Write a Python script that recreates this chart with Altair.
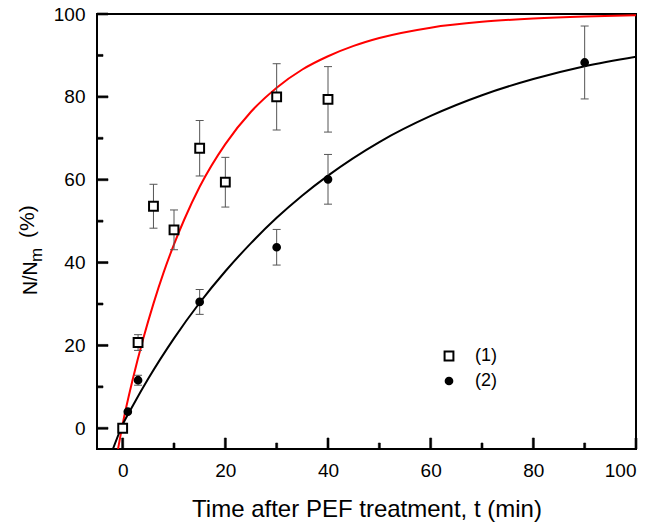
import altair as alt
import pandas as pd

# ---- data ----
t1 = [0, 3, 6, 10, 15, 20, 30, 40]
v1 = [0, 20.7, 53.6, 47.9, 67.6, 59.4, 80.0, 79.4]
e1 = [0, 1.9, 5.3, 4.8, 6.7, 6.0, 8.0, 7.9]

t2 = [1, 3, 15, 30, 40, 90]
v2 = [4.0, 11.6, 30.5, 43.7, 60.1, 88.3]
e2 = [0, 1.2, 3.0, 4.3, 6.0, 8.8]

# fitted curves
fit1_t = [-0.9, 0, 2, 4, 6, 8, 10, 12, 15, 20, 25, 30, 35, 40, 45, 50, 60, 70, 80, 90, 100]
fit1_v = [-5, 1.0, 12.0, 21.6, 30.1, 37.7, 44.4, 50.4, 58.3, 68.6, 76.4, 82.2, 86.6, 89.8, 92.3, 94.2, 96.7, 98.1, 98.9, 99.4, 99.7]
fit2_t = [-1.9, 0, 2, 5, 10, 15, 20, 25, 30, 35, 40, 50, 60, 70, 80, 90, 100]
fit2_v = [-5, 0.9, 5.5, 12.0, 21.7, 30.3, 37.9, 44.7, 50.8, 56.2, 61.0, 69.1, 75.4, 80.4, 84.3, 87.4, 89.7]

x_major = [0, 20, 40, 60, 80, 100]
x_minor = [10, 30, 50, 70, 90]
y_major = [0, 20, 40, 60, 80, 100]
y_minor = [10, 30, 50, 70, 90]

labels = ["(1)", "(2)"]

FONT = "Liberation Sans"
W, H = 539, 435

pts = pd.DataFrame({
    "t": t1 + t2,
    "v": v1 + v2,
    "e": e1 + e2,
    "series": [labels[0]] * len(t1) + [labels[1]] * len(t2),
})
pts["lo"] = pts["v"] - pts["e"]
pts["hi"] = pts["v"] + pts["e"]
bars = pts[pts["e"] > 0]

curves = pd.DataFrame({
    "t": fit1_t + fit2_t,
    "v": fit1_v + fit2_v,
    "curve": ["c1"] * len(fit1_t) + ["c2"] * len(fit2_t),
})

xs = alt.Scale(domain=[-5, 100], nice=False, zero=False)
ys = alt.Scale(domain=[-5, 100], nice=False, zero=False)

xaxis = alt.Axis(values=x_major, ticks=False, domain=False, grid=False,
                 labelFontSize=19, labelFont=FONT, labelColor="black", labelPadding=12,
                 title="Time after PEF treatment, t (min)", titleFontSize=24,
                 titleFont=FONT, titleFontWeight="normal", titleColor="black",
                 titlePadding=17)
yaxis = alt.Axis(values=y_major, ticks=False, domain=False, grid=False,
                 labelFontSize=19, labelFont=FONT, labelColor="black", labelPadding=12,
                 title=None)

lines = alt.Chart(curves).mark_line(strokeWidth=2, clip=True, interpolate="monotone").encode(
    x=alt.X("t:Q", scale=xs, axis=xaxis),
    y=alt.Y("v:Q", scale=ys, axis=yaxis),
    color=alt.Color("curve:N", scale=alt.Scale(domain=["c1", "c2"], range=["#ff0000", "#000000"]), legend=None),
    detail="curve:N",
)

GREY = "#555555"
ebar = alt.Chart(bars).mark_rule(color=GREY, strokeWidth=1, opacity=1).encode(
    x=alt.X("t:Q", scale=xs), y=alt.Y("lo:Q", scale=ys), y2="hi:Q")
cap_lo = alt.Chart(bars).mark_tick(color=GREY, thickness=1, size=8, orient="horizontal", opacity=1).encode(
    x=alt.X("t:Q", scale=xs), y=alt.Y("lo:Q", scale=ys))
cap_hi = alt.Chart(bars).mark_tick(color=GREY, thickness=1, size=8, orient="horizontal", opacity=1).encode(
    x=alt.X("t:Q", scale=xs), y=alt.Y("hi:Q", scale=ys))

leg = alt.Legend(title=None, orient="none", legendX=343, legendY=333, padding=0,
                 labelFontSize=18, labelFont=FONT, labelColor="black", labelOffset=17,
                 symbolStrokeWidth=2, rowPadding=7)

points = alt.Chart(pts).mark_point(strokeWidth=2, opacity=1).encode(
    x=alt.X("t:Q", scale=xs),
    y=alt.Y("v:Q", scale=ys),
    shape=alt.Shape("series:N", scale=alt.Scale(domain=labels, range=["square", "circle"]), legend=leg),
    fill=alt.Fill("series:N", scale=alt.Scale(domain=labels, range=["white", "black"]), legend=leg),
    stroke=alt.Stroke("series:N", scale=alt.Scale(domain=labels, range=["black", "black"]), legend=leg),
    size=alt.Size("series:N", scale=alt.Scale(domain=labels, range=[78, 45]), legend=leg),
)

TK = dict(color="black", stroke="black", strokeWidth=0.6, opacity=1, thickness=2)
xmaj = alt.Chart(pd.DataFrame({"t": x_major})).mark_tick(size=11, orient="vertical", **TK).encode(
    x=alt.X("t:Q", scale=xs), y=alt.value(H - 5.5))
xmin = alt.Chart(pd.DataFrame({"t": x_minor})).mark_tick(size=6, orient="vertical", **TK).encode(
    x=alt.X("t:Q", scale=xs), y=alt.value(H - 3))
ymaj = alt.Chart(pd.DataFrame({"v": y_major})).mark_tick(size=11, orient="horizontal", **TK).encode(
    y=alt.Y("v:Q", scale=ys), x=alt.value(5.5))
ymin = alt.Chart(pd.DataFrame({"v": y_minor})).mark_tick(size=6, orient="horizontal", **TK).encode(
    y=alt.Y("v:Q", scale=ys), x=alt.value(3))

one = pd.DataFrame({"a": [0]})
yt1 = alt.Chart(one).mark_text(text="N/N", angle=270, align="left", baseline="alphabetic",
                               fontSize=19.5, font=FONT, color="black").encode(
    x=alt.value(-60.5), y=alt.value(281))
yt2 = alt.Chart(one).mark_text(text="m", angle=270, align="left", baseline="alphabetic",
                               fontSize=17, font=FONT, color="black").encode(
    x=alt.value(-55.5), y=alt.value(248))
yt3 = alt.Chart(one).mark_text(text="(%)", angle=270, align="left", baseline="alphabetic",
                               fontSize=21, font=FONT, color="black").encode(
    x=alt.value(-63), y=alt.value(224))

chart = alt.layer(lines, ebar, cap_lo, cap_hi, points, xmaj, xmin, ymaj, ymin, yt1, yt2, yt3).properties(
    width=W, height=H,
    autosize=alt.AutoSizeParams(type="none"),
    padding={"left": 97, "top": 14, "right": 18, "bottom": 78},
    background="white",
).configure_view(stroke="black", strokeWidth=2).resolve_scale(color="independent")

chart.save("out.html", embed_options={"renderer": "svg", "actions": False})
